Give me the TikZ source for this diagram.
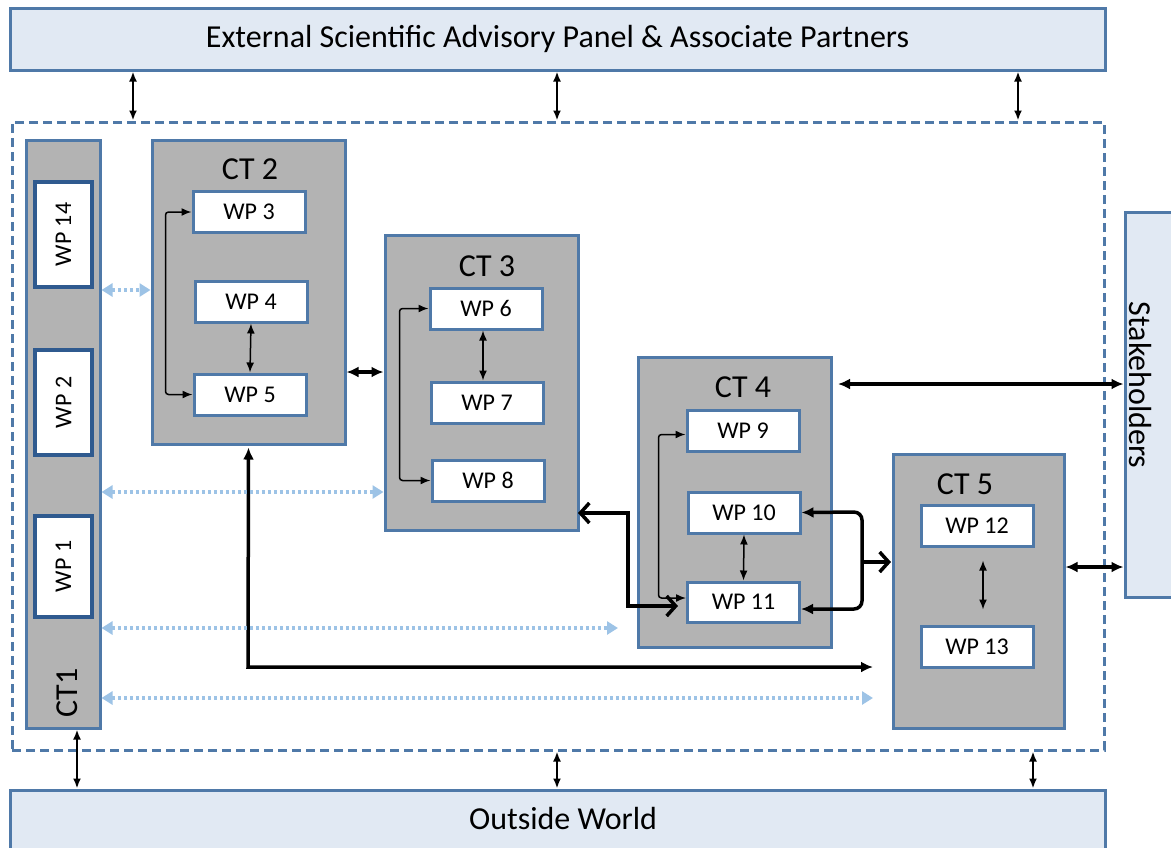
\documentclass[tikz,border=0pt]{standalone}
\usepackage{fontspec}
\setmainfont{Carlito}
\usetikzlibrary{arrows.meta,calc}
\definecolor{bordblue}{HTML}{4F79A8}
\definecolor{darkblue}{HTML}{2F5A8F}
\definecolor{lightfill}{HTML}{E1E9F3}
\definecolor{ctgray}{HTML}{B3B3B3}
\definecolor{dotblue}{HTML}{9DC3E6}
\begin{document}
\begin{tikzpicture}[x=1pt,y=-1pt,
  outerbox/.style={draw=bordblue,line width=3pt,fill=lightfill,inner sep=0pt},
  ctbox/.style={draw=bordblue,line width=3pt,fill=ctgray,inner sep=0pt},
  wpbox/.style={draw=bordblue,line width=3pt,fill=white,inner sep=0pt,minimum width=112pt,minimum height=41pt,font=\fontsize{24}{24}\selectfont},
  wpside/.style={draw=darkblue,line width=4pt,fill=white,inner sep=0pt,minimum width=57pt,font=\fontsize{24}{24}\selectfont},
  ctlabel/.style={font=\fontsize{32}{32}\selectfont,inner sep=0pt},
  bigtext/.style={font=\fontsize{32}{32}\selectfont,inner sep=0pt},
  thinarrow/.style={line width=2pt,{Latex[length=10pt,width=8pt]}-{Latex[length=10pt,width=8pt]}},
  thickarrow/.style={line width=3.5pt,{Latex[length=12pt,width=11pt]}-{Latex[length=12pt,width=11pt]}},
  barbboth/.style={line width=3.5pt,{Straight Barb[length=9pt,width=20pt,line width=3.5pt]}-{Straight Barb[length=9pt,width=20pt,line width=3.5pt]}},
  openarrow/.style={line width=3.5pt,-{Straight Barb[length=9pt,width=20pt,line width=3.5pt]}},
  dotarrow/.style={draw=dotblue,line width=3.5pt,dash pattern=on 3pt off 3pt,{Triangle[length=11pt,width=13pt,fill=dotblue]}-{Triangle[length=11pt,width=13pt,fill=dotblue]}}
]
\useasboundingbox (0,0) rectangle (1171,847);

% outer boxes
\node[outerbox,minimum width=1095pt,minimum height=62pt,font=\fontsize{32}{32}\selectfont] (esap) at (557.5,39) {External Scientific Advisory Panel \& Associate Partners};
\node[outerbox,minimum width=1095pt,minimum height=70pt] (ow) at (557.5,825) {};
\node[bigtext] (owlabel) at (563,818) {Outside World};
\node[outerbox,minimum width=50pt,minimum height=385pt] (stk) at (1150,404.5) {};
\node[bigtext,rotate=-90] (stklabel) at (1140,385) {Stakeholders};

% dashed boundary
\node[draw=bordblue,line width=3pt,dash pattern=on 9pt off 5pt,minimum width=1092pt,minimum height=628pt,inner sep=0pt] (inner) at (558,436) {};

% CT1
\node[ctbox,minimum width=74pt,minimum height=588pt] (ct1) at (63,434) {};
\node[wpside,minimum height=105pt] (wp14) at (63.5,234.5) {\rotatebox{90}{WP 14}};
\node[wpside,minimum height=105pt] (wp2) at (63.5,402.5) {\rotatebox{90}{WP 2}};
\node[wpside,minimum height=101pt] (wp1) at (63.5,566.5) {\rotatebox{90}{WP 1}};
\node[ctlabel,rotate=90] (ct1label) at (67,693) {CT1};

% CT2
\node[ctbox,minimum width=193pt,minimum height=304pt] (ct2) at (248.5,292) {};
\node[ctlabel] (ct2label) at (250,169) {CT 2};
\node[wpbox] (wp3) at (249,212) {WP 3};
\node[wpbox] (wp4) at (251,301.5) {WP 4};
\node[wpbox] (wp5) at (250,394.5) {WP 5};

% CT3
\node[ctbox,minimum width=193pt,minimum height=295pt] (ct3) at (481.5,382.5) {};
\node[ctlabel] (ct3label) at (487,266) {CT 3};
\node[wpbox] (wp6) at (486,308.5) {WP 6};
\node[wpbox] (wp7) at (487,402.5) {WP 7};
\node[wpbox] (wp8) at (488,480.5) {WP 8};

% CT4
\node[ctbox,minimum width=193pt,minimum height=290pt] (ct4) at (734.5,502) {};
\node[ctlabel] (ct4label) at (743,387) {CT 4};
\node[wpbox] (wp9) at (743,430.5) {WP 9};
\node[wpbox] (wp10) at (744,512.5) {WP 10};
\node[wpbox,minimum height=40pt] (wp11) at (743.5,602) {WP 11};

% CT5
\node[ctbox,minimum width=171pt,minimum height=274pt] (ct5) at (978.5,591) {};
\node[ctlabel] (ct5label) at (965,484) {CT 5};
\node[wpbox] (wp12) at (977,525.5) {WP 12};
\node[wpbox] (wp13) at (977,646.5) {WP 13};

% coordinates
\coordinate (xa) at (133,0);
\coordinate (xb) at (557,0);
\coordinate (xc) at (1018,0);
\coordinate (xd) at (77,0);
\coordinate (xe) at (1033,0);
\coordinate (xf) at (983,0);
\coordinate (ya) at (0,372);
\coordinate (yb) at (0,384);
\coordinate (yc) at (0,567);
\coordinate (yd) at (0,290);
\coordinate (ye) at (0,492);
\coordinate (yf) at (0,628);
\coordinate (yg) at (0,698);
\coordinate (ct4out) at (838,384);
\coordinate (ct3out) at (578,513);
\coordinate (bendA) at (628,513);
\coordinate (bendB) at (628,606);
\coordinate (wp11in) at (688,606);
\coordinate (rA) at (862,512);
\coordinate (rB) at (862,609);
\coordinate (rM) at (862,562);
\coordinate (ct5in) at (893,562);
\coordinate (dropA) at (248,667);
\coordinate (endA) at (873,667);
\coordinate (dotend3) at (618,628);
\coordinate (dotend4) at (873,698);

% top / bottom links
\draw[thinarrow] (esap.south -| xa) -- (inner.north -| xa);
\draw[thinarrow] (esap.south -| xb) -- (inner.north -| xb);
\draw[thinarrow] (esap.south -| xc) -- (inner.north -| xc);
\draw[thinarrow] (ct1.south -| xd) -- (ow.north -| xd);
\draw[thinarrow] (inner.south -| xb) -- (ow.north -| xb);
\draw[thinarrow] (inner.south -| xe) -- (ow.north -| xe);

% inner links
\draw[thinarrow,line width=1.5pt,rounded corners=3pt] (wp3.west) -- ++(-26,0) |- (wp5.west);
\draw[thinarrow,line width=1.5pt] (wp4.south) -- (wp5.north);
\draw[thinarrow,line width=1.5pt,rounded corners=3pt] (wp6.west) -- ++(-29,0) |- (wp8.west);
\draw[thinarrow,line width=1.5pt] ([xshift=-3pt]wp6.south) -- ([xshift=-4pt]wp7.north);
\draw[thinarrow,line width=1.5pt,rounded corners=3pt] ([yshift=-4pt]wp9.west) -- ++(-27,0) |- ([yshift=4pt]wp11.west);
\draw[thinarrow,line width=1.5pt] (wp10.south) -- (wp11.north);
\draw[thinarrow,line width=1.5pt,shorten <=13pt,shorten >=15pt] (wp12.south -| xf) -- (wp13.north -| xf);

% thick links
\draw[thickarrow] (ct2.east |- ya) -- (ct3.west |- ya);
\draw[thickarrow] (ct4out) -- (stk.west |- yb);
\draw[thickarrow] (ct5.east |- yc) -- (stk.west |- yc);
\draw[thickarrow,shorten <=2pt] (ct2.south) -- (dropA) -- (endA);
\draw[barbboth,shorten >=10pt] (ct3out) -- (bendA) -- (bendB) -- (wp11in);
\draw[thickarrow,rounded corners=8pt] (wp10.east) -- (rA) -- (rB) -- ([yshift=-7pt]wp11.east);
\draw[openarrow,shorten >=2pt] (rM) -- (ct5in);

% dotted links
\draw[dotarrow] (ct1.east |- yd) -- (ct2.west |- yd);
\draw[dotarrow] (ct1.east |- ye) -- (ct3.west |- ye);
\draw[dotarrow] (ct1.east |- yf) -- (dotend3);
\draw[dotarrow] (ct1.east |- yg) -- (dotend4);
\end{tikzpicture}
\end{document}
